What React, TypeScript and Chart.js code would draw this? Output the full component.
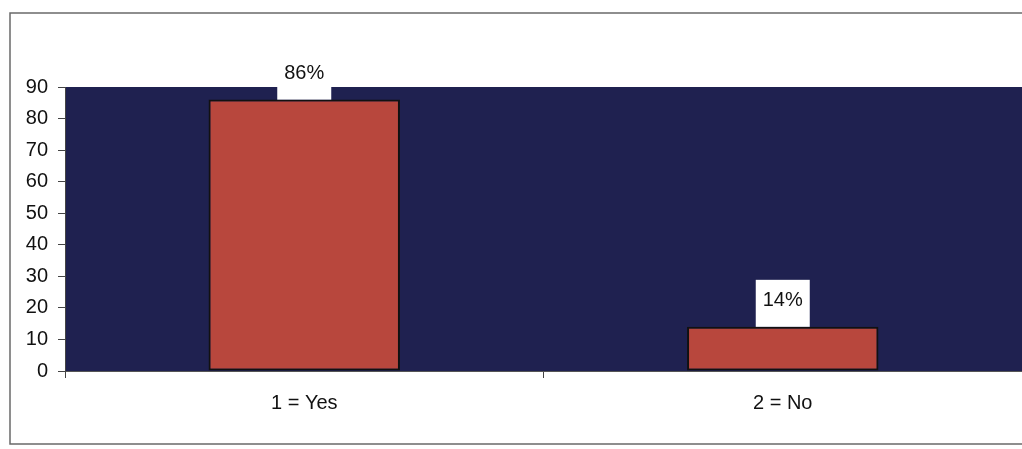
import React, { useEffect, useRef } from "react";
import { Chart, registerables } from "chart.js";

Chart.register(...registerables);

const categories = ["1 = Yes", "2 = No"];
const values = [86, 14];
const valueLabels = ["86%", "14%"];
const yMin = 0;
const yMax = 90;
const yStep = 10;

const NAVY = "#1f2150";
const RED = "#b8473d";
const FONT = "'Liberation Sans', Arial, sans-serif";

const framePlugin = {
  id: "frameAndBg",
  beforeDraw(chart: any) {
    const { ctx, chartArea } = chart;
    ctx.save();
    ctx.fillStyle = "#ffffff";
    ctx.fillRect(0, 0, chart.width, chart.height);
    ctx.strokeStyle = "#6a6a6a";
    ctx.lineWidth = 1.5;
    ctx.beginPath();
    ctx.moveTo(chart.width + 5, 13);
    ctx.lineTo(10, 13);
    ctx.lineTo(10, 444);
    ctx.lineTo(chart.width + 5, 444);
    ctx.stroke();
    ctx.fillStyle = NAVY;
    ctx.fillRect(chartArea.left, chartArea.top, chartArea.right - chartArea.left, chartArea.bottom - chartArea.top);
    ctx.restore();
  },
};

const labelPlugin = {
  id: "valueBoxes",
  afterDatasetsDraw(chart: any) {
    const { ctx } = chart;
    const meta = chart.getDatasetMeta(0);
    ctx.save();
    meta.data.forEach((bar: any, i: number) => {
      const w = 54;
      const h = 47;
      ctx.fillStyle = "#ffffff";
      ctx.fillRect(bar.x - w / 2, bar.y - h, w, h);
      ctx.fillStyle = "#111111";
      ctx.font = `20px ${FONT}`;
      ctx.textAlign = "center";
      ctx.textBaseline = "middle";
      ctx.fillText(valueLabels[i], bar.x, bar.y - 26);
    });
    ctx.restore();
  },
};

export default function App() {
  const ref = useRef<HTMLCanvasElement>(null);
  useEffect(() => {
    if (!ref.current) return;
    const chart = new Chart(ref.current, {
      type: "bar",
      data: {
        labels: categories,
        datasets: [
          {
            data: values,
            backgroundColor: RED,
            borderColor: "#111111",
            borderWidth: 2,
            borderSkipped: false,
            barPercentage: 0.4,
            categoryPercentage: 1,
          },
        ],
      },
      options: {
        animation: false,
        responsive: false,
        maintainAspectRatio: false,
        layout: { padding: { top: 87, left: 0, right: 0, bottom: 0 } },
        plugins: { legend: { display: false }, tooltip: { enabled: false } },
        scales: {
          x: {
            offset: true,
            grid: {
              offset: true,
              drawOnChartArea: false,
              drawTicks: true,
              tickLength: 7,
              color: "#444444",
            },
            border: { display: true, color: "#555555", width: 1 },
            ticks: {
              color: "#111111",
              font: { family: FONT, size: 20 },
              padding: 13,
              maxRotation: 0,
            },
            afterFit(scale: any) {
              scale.height = 78;
            },
          },
          y: {
            min: yMin,
            max: yMax,
            grid: {
              drawOnChartArea: false,
              drawTicks: true,
              tickLength: 7,
              color: "#444444",
            },
            border: { display: true, color: "#444444", width: 1 },
            ticks: {
              stepSize: yStep,
              color: "#111111",
              font: { family: FONT, size: 20 },
              padding: 10,
            },
            afterFit(scale: any) {
              scale.width = 65;
            },
          },
        },
      },
      plugins: [framePlugin, labelPlugin],
    });
    return () => chart.destroy();
  }, []);
  return (
    <div style={{ position: "absolute", left: 0, top: 0, width: 1022, height: 449, background: "#fff" }}>
      <canvas ref={ref} width={1022} height={449} style={{ display: "block" }} />
    </div>
  );
}
